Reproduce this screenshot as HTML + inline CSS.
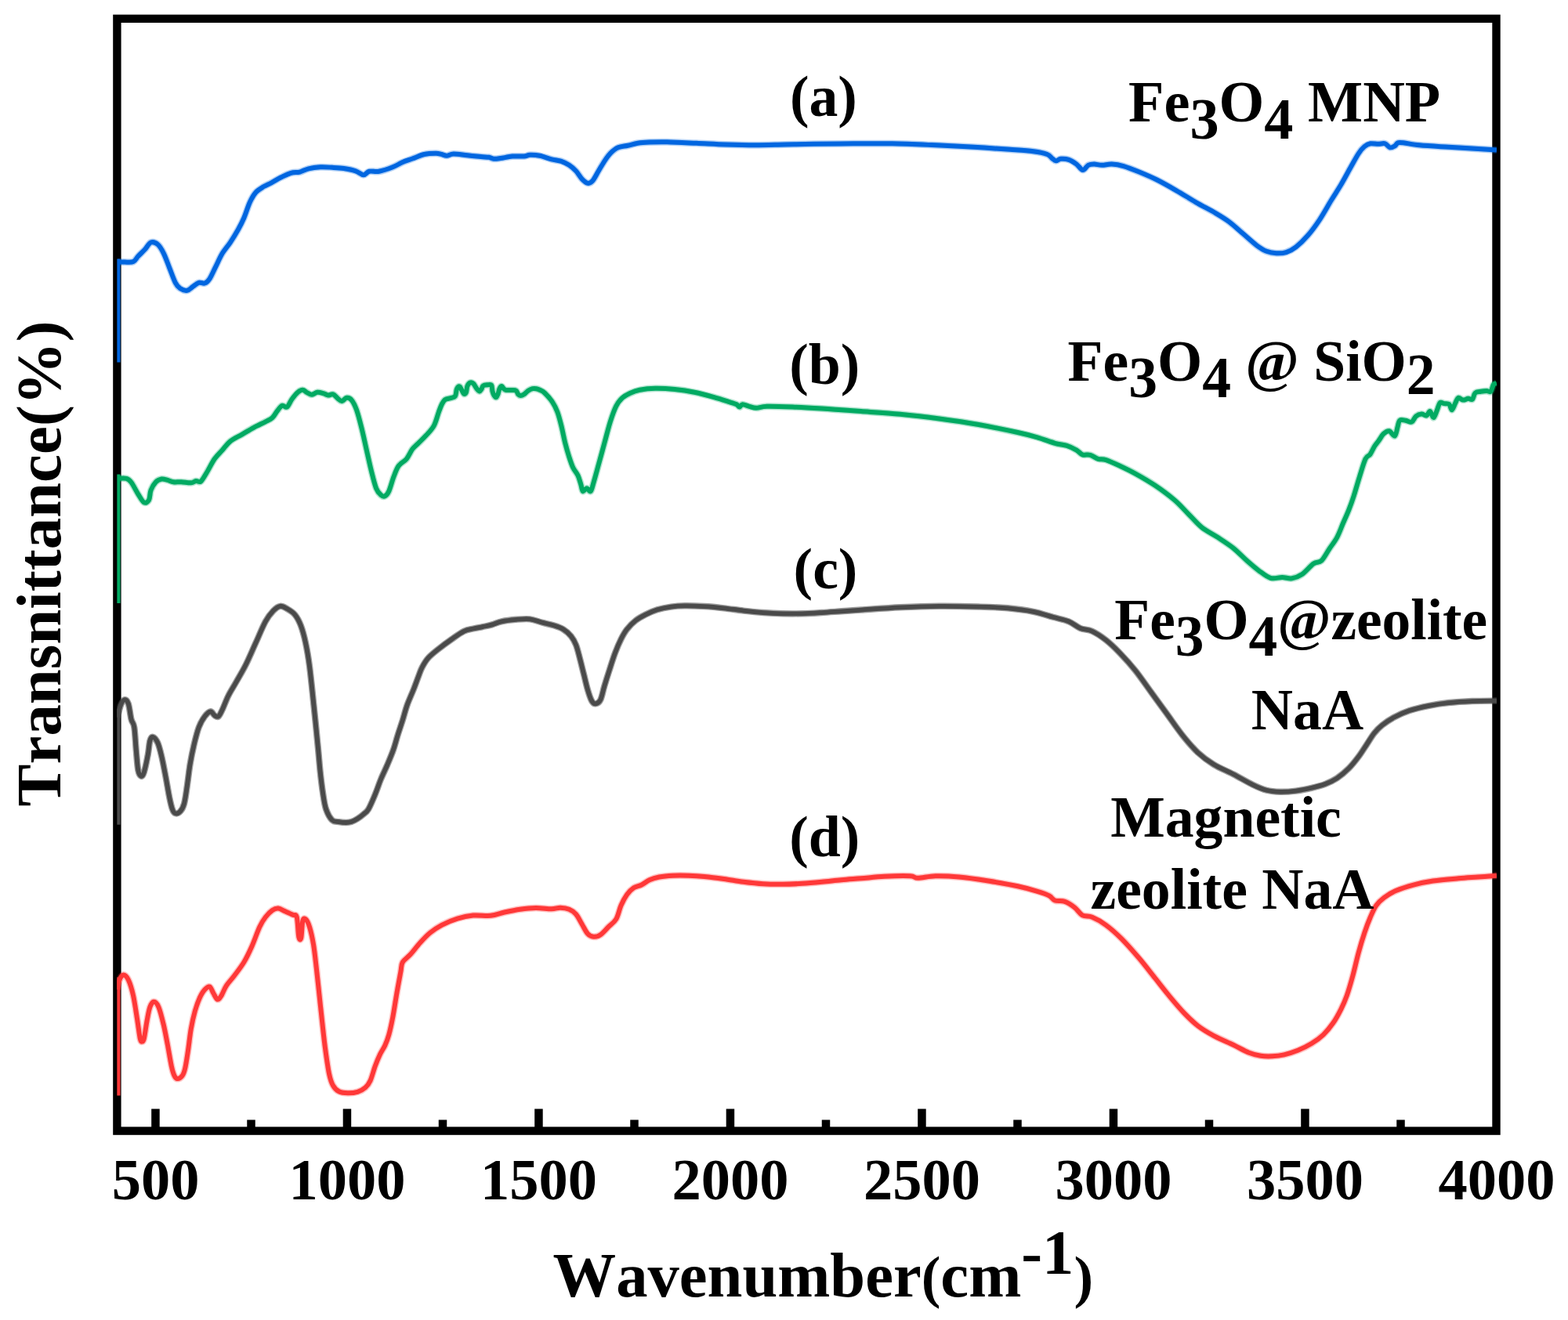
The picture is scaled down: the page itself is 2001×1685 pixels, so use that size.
<!DOCTYPE html>
<html lang="en"><head><meta charset="utf-8"><title>FTIR spectra</title>
<style>
html,body{margin:0;padding:0;background:#fff;}
body{width:2001px;height:1685px;overflow:hidden;}
svg{display:block;}
text{font-family:"Liberation Serif",serif;font-weight:bold;fill:#000;font-kerning:none;font-variant-ligatures:none;}
.t80{font-size:80.6px;}.ty{font-size:80.9px;}.t75{font-size:74.5px;}.t74{font-size:73.7px;}.par{font-size:74px;}.sub{font-size:74.5px;}
.crv{fill:none;stroke-linejoin:round;stroke-linecap:butt;}
</style></head><body>
<svg width="2001" height="1685" viewBox="0 0 2001 1685">
<rect x="0" y="0" width="2001" height="1685" fill="#ffffff"/>
<g id="axes">
<rect x="149.4" y="23.85" width="1760.1" height="1419.75" fill="none" stroke="#000" stroke-width="10.4"/>
<rect x="193.20" y="1415.5" width="10.5" height="25" fill="#000"/>
<rect x="437.70" y="1415.5" width="10.5" height="25" fill="#000"/>
<rect x="682.20" y="1415.5" width="10.5" height="25" fill="#000"/>
<rect x="926.70" y="1415.5" width="10.5" height="25" fill="#000"/>
<rect x="1171.20" y="1415.5" width="10.5" height="25" fill="#000"/>
<rect x="1415.70" y="1415.5" width="10.5" height="25" fill="#000"/>
<rect x="1660.20" y="1415.5" width="10.5" height="25" fill="#000"/>
<rect x="315.25" y="1429.5" width="10.5" height="11" fill="#000"/>
<rect x="559.75" y="1429.5" width="10.5" height="11" fill="#000"/>
<rect x="804.25" y="1429.5" width="10.5" height="11" fill="#000"/>
<rect x="1048.75" y="1429.5" width="10.5" height="11" fill="#000"/>
<rect x="1293.25" y="1429.5" width="10.5" height="11" fill="#000"/>
<rect x="1537.75" y="1429.5" width="10.5" height="11" fill="#000"/>
<rect x="1782.25" y="1429.5" width="10.5" height="11" fill="#000"/>
</g>
<clipPath id="plotclip"><rect x="149.2" y="0" width="1761" height="1685"/></clipPath>
<g id="curves" clip-path="url(#plotclip)">
<rect x="149.2" y="330.5" width="4.3" height="132.0" fill="#0066e0"/>
<path class="crv" stroke="#0066e0" stroke-opacity="0.3" stroke-width="9.0" d="M150.00,334.55 C151.47,334.55 155.46,334.63 158.80,334.55 C162.14,334.47 167.13,335.30 170.05,334.05 C172.97,332.80 173.80,329.68 176.30,327.05 C178.80,324.43 182.34,321.22 185.05,318.30 C187.76,315.38 189.84,310.59 192.55,309.55 C195.26,308.51 198.59,309.76 201.30,312.05 C204.01,314.34 206.30,318.30 208.80,323.30 C211.30,328.30 213.80,335.80 216.30,342.05 C218.80,348.30 221.51,356.43 223.80,360.80 C226.09,365.18 227.55,366.63 230.05,368.30 C232.55,369.97 236.09,371.22 238.80,370.80 C241.51,370.38 243.80,367.47 246.30,365.80 C248.80,364.13 251.30,361.51 253.80,360.80 C256.30,360.09 259.01,362.38 261.30,361.55 C263.59,360.72 265.26,359.26 267.55,355.80 C269.84,352.34 272.34,346.22 275.05,340.80 C277.76,335.38 280.68,328.51 283.80,323.30 C286.93,318.09 290.47,314.55 293.80,309.55 C297.13,304.55 300.88,298.51 303.80,293.30 C306.72,288.09 308.80,284.13 311.30,278.30 C313.80,272.47 316.30,263.72 318.80,258.30 C321.30,252.88 323.38,249.13 326.30,245.80 C329.22,242.47 332.97,240.38 336.30,238.30 C339.63,236.22 342.55,235.30 346.30,233.30 C350.05,231.30 354.63,228.38 358.80,226.30 C362.97,224.22 367.34,221.93 371.30,220.80 C375.26,219.68 378.80,220.47 382.55,219.55 C386.30,218.63 389.43,216.34 393.80,215.30 C398.18,214.26 403.80,213.55 408.80,213.30 C413.80,213.05 418.80,213.51 423.80,213.80 C428.80,214.09 433.80,214.30 438.80,215.05 C443.80,215.80 449.63,216.93 453.80,218.30 C457.97,219.68 460.88,223.22 463.80,223.30 C466.72,223.38 467.97,219.55 471.30,218.80 C474.63,218.05 478.80,219.72 483.80,218.80 C488.80,217.88 496.30,215.26 501.30,213.30 C506.30,211.34 509.63,208.84 513.80,207.05 C517.97,205.26 521.72,204.22 526.30,202.55 C530.88,200.88 536.30,198.18 541.30,197.05 C546.30,195.93 552.55,195.80 556.30,195.80 C560.05,195.80 561.51,196.55 563.80,197.05 C566.09,197.55 567.55,198.88 570.05,198.80 C572.55,198.72 574.42,196.63 578.80,196.55 C583.17,196.47 590.47,197.72 596.30,198.30 C602.13,198.88 609.22,199.63 613.80,200.05 C618.38,200.47 621.09,200.34 623.80,200.80 C626.51,201.26 627.55,202.59 630.05,202.80 C632.55,203.01 634.84,202.59 638.80,202.05 C642.76,201.51 648.80,199.97 653.80,199.55 C658.80,199.13 665.05,199.84 668.80,199.55 C672.55,199.26 672.97,197.93 676.30,197.80 C679.63,197.68 684.22,197.88 688.80,198.80 C693.38,199.72 699.22,202.13 703.80,203.30 C708.38,204.47 712.55,204.55 716.30,205.80 C720.05,207.05 723.17,208.72 726.30,210.80 C729.42,212.88 732.34,215.38 735.05,218.30 C737.76,221.22 740.05,225.72 742.55,228.30 C745.05,230.88 747.76,233.38 750.05,233.80 C752.34,234.22 754.01,233.38 756.30,230.80 C758.59,228.22 761.30,222.47 763.80,218.30 C766.30,214.13 768.80,209.55 771.30,205.80 C773.80,202.05 775.88,198.72 778.80,195.80 C781.72,192.88 785.05,189.97 788.80,188.30 C792.55,186.63 797.13,186.72 801.30,185.80 C805.47,184.88 809.22,183.51 813.80,182.80 C818.38,182.09 822.55,181.80 828.80,181.55 C835.05,181.30 841.30,181.09 851.30,181.30 C861.30,181.51 876.30,182.26 888.80,182.80 C901.30,183.34 913.80,184.13 926.30,184.55 C938.80,184.97 951.30,185.30 963.80,185.30 C976.30,185.30 988.80,184.80 1001.30,184.55 C1013.80,184.30 1024.22,184.01 1038.80,183.80 C1053.38,183.59 1072.13,183.38 1088.80,183.30 C1105.47,183.22 1122.13,183.01 1138.80,183.30 C1155.47,183.59 1172.13,184.34 1188.80,185.05 C1205.47,185.76 1222.13,186.59 1238.80,187.55 C1255.47,188.51 1275.47,189.84 1288.80,190.80 C1302.13,191.76 1310.88,192.26 1318.80,193.30 C1326.72,194.34 1332.34,195.59 1336.30,197.05 C1340.26,198.51 1340.67,200.68 1342.55,202.05 C1344.42,203.43 1345.67,205.18 1347.55,205.30 C1349.42,205.43 1351.09,203.05 1353.80,202.80 C1356.51,202.55 1360.47,202.68 1363.80,203.80 C1367.13,204.93 1370.80,207.34 1373.80,209.55 C1376.80,211.76 1379.30,216.84 1381.80,217.05 C1384.30,217.26 1386.38,212.05 1388.80,210.80 C1391.22,209.55 1393.38,209.55 1396.30,209.55 C1399.22,209.55 1402.55,210.80 1406.30,210.80 C1410.05,210.80 1414.22,209.34 1418.80,209.55 C1423.38,209.76 1427.97,210.38 1433.80,212.05 C1439.63,213.72 1446.72,216.63 1453.80,219.55 C1460.88,222.47 1468.38,225.59 1476.30,229.55 C1484.22,233.51 1492.97,238.51 1501.30,243.30 C1509.63,248.09 1517.97,253.51 1526.30,258.30 C1534.63,263.09 1544.22,267.88 1551.30,272.05 C1558.38,276.22 1562.97,278.93 1568.80,283.30 C1574.63,287.68 1580.47,293.30 1586.30,298.30 C1592.13,303.30 1598.80,309.55 1603.80,313.30 C1608.80,317.05 1612.13,319.13 1616.30,320.80 C1620.47,322.47 1624.63,323.09 1628.80,323.30 C1632.97,323.51 1637.13,323.38 1641.30,322.05 C1645.47,320.72 1649.22,318.84 1653.80,315.30 C1658.38,311.76 1663.80,306.55 1668.80,300.80 C1673.80,295.05 1678.80,288.30 1683.80,280.80 C1688.80,273.30 1694.22,263.30 1698.80,255.80 C1703.38,248.30 1707.13,242.88 1711.30,235.80 C1715.47,228.72 1720.05,219.97 1723.80,213.30 C1727.55,206.63 1730.88,200.18 1733.80,195.80 C1736.72,191.43 1738.80,189.13 1741.30,187.05 C1743.80,184.97 1745.88,183.84 1748.80,183.30 C1751.72,182.76 1755.67,183.80 1758.80,183.80 C1761.92,183.80 1765.05,182.55 1767.55,183.30 C1770.05,184.05 1771.72,187.80 1773.80,188.30 C1775.88,188.80 1777.97,187.34 1780.05,186.30 C1782.13,185.26 1781.09,182.22 1786.30,182.05 C1791.51,181.88 1800.88,184.34 1811.30,185.30 C1821.72,186.26 1836.30,187.01 1848.80,187.80 C1861.30,188.59 1876.10,189.43 1886.30,190.05 C1896.50,190.68 1906.05,191.30 1910.00,191.55"/>
<path class="crv" stroke="#0066e0" stroke-width="6.0" d="M150.00,334.55 C151.47,334.55 155.46,334.63 158.80,334.55 C162.14,334.47 167.13,335.30 170.05,334.05 C172.97,332.80 173.80,329.68 176.30,327.05 C178.80,324.43 182.34,321.22 185.05,318.30 C187.76,315.38 189.84,310.59 192.55,309.55 C195.26,308.51 198.59,309.76 201.30,312.05 C204.01,314.34 206.30,318.30 208.80,323.30 C211.30,328.30 213.80,335.80 216.30,342.05 C218.80,348.30 221.51,356.43 223.80,360.80 C226.09,365.18 227.55,366.63 230.05,368.30 C232.55,369.97 236.09,371.22 238.80,370.80 C241.51,370.38 243.80,367.47 246.30,365.80 C248.80,364.13 251.30,361.51 253.80,360.80 C256.30,360.09 259.01,362.38 261.30,361.55 C263.59,360.72 265.26,359.26 267.55,355.80 C269.84,352.34 272.34,346.22 275.05,340.80 C277.76,335.38 280.68,328.51 283.80,323.30 C286.93,318.09 290.47,314.55 293.80,309.55 C297.13,304.55 300.88,298.51 303.80,293.30 C306.72,288.09 308.80,284.13 311.30,278.30 C313.80,272.47 316.30,263.72 318.80,258.30 C321.30,252.88 323.38,249.13 326.30,245.80 C329.22,242.47 332.97,240.38 336.30,238.30 C339.63,236.22 342.55,235.30 346.30,233.30 C350.05,231.30 354.63,228.38 358.80,226.30 C362.97,224.22 367.34,221.93 371.30,220.80 C375.26,219.68 378.80,220.47 382.55,219.55 C386.30,218.63 389.43,216.34 393.80,215.30 C398.18,214.26 403.80,213.55 408.80,213.30 C413.80,213.05 418.80,213.51 423.80,213.80 C428.80,214.09 433.80,214.30 438.80,215.05 C443.80,215.80 449.63,216.93 453.80,218.30 C457.97,219.68 460.88,223.22 463.80,223.30 C466.72,223.38 467.97,219.55 471.30,218.80 C474.63,218.05 478.80,219.72 483.80,218.80 C488.80,217.88 496.30,215.26 501.30,213.30 C506.30,211.34 509.63,208.84 513.80,207.05 C517.97,205.26 521.72,204.22 526.30,202.55 C530.88,200.88 536.30,198.18 541.30,197.05 C546.30,195.93 552.55,195.80 556.30,195.80 C560.05,195.80 561.51,196.55 563.80,197.05 C566.09,197.55 567.55,198.88 570.05,198.80 C572.55,198.72 574.42,196.63 578.80,196.55 C583.17,196.47 590.47,197.72 596.30,198.30 C602.13,198.88 609.22,199.63 613.80,200.05 C618.38,200.47 621.09,200.34 623.80,200.80 C626.51,201.26 627.55,202.59 630.05,202.80 C632.55,203.01 634.84,202.59 638.80,202.05 C642.76,201.51 648.80,199.97 653.80,199.55 C658.80,199.13 665.05,199.84 668.80,199.55 C672.55,199.26 672.97,197.93 676.30,197.80 C679.63,197.68 684.22,197.88 688.80,198.80 C693.38,199.72 699.22,202.13 703.80,203.30 C708.38,204.47 712.55,204.55 716.30,205.80 C720.05,207.05 723.17,208.72 726.30,210.80 C729.42,212.88 732.34,215.38 735.05,218.30 C737.76,221.22 740.05,225.72 742.55,228.30 C745.05,230.88 747.76,233.38 750.05,233.80 C752.34,234.22 754.01,233.38 756.30,230.80 C758.59,228.22 761.30,222.47 763.80,218.30 C766.30,214.13 768.80,209.55 771.30,205.80 C773.80,202.05 775.88,198.72 778.80,195.80 C781.72,192.88 785.05,189.97 788.80,188.30 C792.55,186.63 797.13,186.72 801.30,185.80 C805.47,184.88 809.22,183.51 813.80,182.80 C818.38,182.09 822.55,181.80 828.80,181.55 C835.05,181.30 841.30,181.09 851.30,181.30 C861.30,181.51 876.30,182.26 888.80,182.80 C901.30,183.34 913.80,184.13 926.30,184.55 C938.80,184.97 951.30,185.30 963.80,185.30 C976.30,185.30 988.80,184.80 1001.30,184.55 C1013.80,184.30 1024.22,184.01 1038.80,183.80 C1053.38,183.59 1072.13,183.38 1088.80,183.30 C1105.47,183.22 1122.13,183.01 1138.80,183.30 C1155.47,183.59 1172.13,184.34 1188.80,185.05 C1205.47,185.76 1222.13,186.59 1238.80,187.55 C1255.47,188.51 1275.47,189.84 1288.80,190.80 C1302.13,191.76 1310.88,192.26 1318.80,193.30 C1326.72,194.34 1332.34,195.59 1336.30,197.05 C1340.26,198.51 1340.67,200.68 1342.55,202.05 C1344.42,203.43 1345.67,205.18 1347.55,205.30 C1349.42,205.43 1351.09,203.05 1353.80,202.80 C1356.51,202.55 1360.47,202.68 1363.80,203.80 C1367.13,204.93 1370.80,207.34 1373.80,209.55 C1376.80,211.76 1379.30,216.84 1381.80,217.05 C1384.30,217.26 1386.38,212.05 1388.80,210.80 C1391.22,209.55 1393.38,209.55 1396.30,209.55 C1399.22,209.55 1402.55,210.80 1406.30,210.80 C1410.05,210.80 1414.22,209.34 1418.80,209.55 C1423.38,209.76 1427.97,210.38 1433.80,212.05 C1439.63,213.72 1446.72,216.63 1453.80,219.55 C1460.88,222.47 1468.38,225.59 1476.30,229.55 C1484.22,233.51 1492.97,238.51 1501.30,243.30 C1509.63,248.09 1517.97,253.51 1526.30,258.30 C1534.63,263.09 1544.22,267.88 1551.30,272.05 C1558.38,276.22 1562.97,278.93 1568.80,283.30 C1574.63,287.68 1580.47,293.30 1586.30,298.30 C1592.13,303.30 1598.80,309.55 1603.80,313.30 C1608.80,317.05 1612.13,319.13 1616.30,320.80 C1620.47,322.47 1624.63,323.09 1628.80,323.30 C1632.97,323.51 1637.13,323.38 1641.30,322.05 C1645.47,320.72 1649.22,318.84 1653.80,315.30 C1658.38,311.76 1663.80,306.55 1668.80,300.80 C1673.80,295.05 1678.80,288.30 1683.80,280.80 C1688.80,273.30 1694.22,263.30 1698.80,255.80 C1703.38,248.30 1707.13,242.88 1711.30,235.80 C1715.47,228.72 1720.05,219.97 1723.80,213.30 C1727.55,206.63 1730.88,200.18 1733.80,195.80 C1736.72,191.43 1738.80,189.13 1741.30,187.05 C1743.80,184.97 1745.88,183.84 1748.80,183.30 C1751.72,182.76 1755.67,183.80 1758.80,183.80 C1761.92,183.80 1765.05,182.55 1767.55,183.30 C1770.05,184.05 1771.72,187.80 1773.80,188.30 C1775.88,188.80 1777.97,187.34 1780.05,186.30 C1782.13,185.26 1781.09,182.22 1786.30,182.05 C1791.51,181.88 1800.88,184.34 1811.30,185.30 C1821.72,186.26 1836.30,187.01 1848.80,187.80 C1861.30,188.59 1876.10,189.43 1886.30,190.05 C1896.50,190.68 1906.05,191.30 1910.00,191.55"/>
<rect x="149.2" y="605.5" width="4.3" height="164.5" fill="#00aa62"/>
<path class="crv" stroke="#00aa62" stroke-opacity="0.3" stroke-width="9.0" d="M150.00,610.80 C151.88,610.80 158.38,609.97 161.30,610.80 C164.23,611.63 165.05,612.47 167.55,615.80 C170.05,619.13 173.59,626.55 176.30,630.80 C179.01,635.05 181.51,640.05 183.80,641.30 C186.09,642.55 188.59,640.88 190.05,638.30 C191.51,635.72 191.09,629.63 192.55,625.80 C194.01,621.97 196.51,617.67 198.80,615.30 C201.09,612.92 203.80,611.97 206.30,611.55 C208.80,611.13 211.30,612.17 213.80,612.80 C216.30,613.42 218.38,614.88 221.30,615.30 C224.22,615.72 227.55,615.13 231.30,615.30 C235.05,615.47 240.68,616.51 243.80,616.30 C246.93,616.09 247.97,614.34 250.05,614.05 C252.13,613.76 254.01,616.34 256.30,614.55 C258.59,612.76 260.88,608.09 263.80,603.30 C266.72,598.51 270.47,590.59 273.80,585.80 C277.13,581.01 280.47,578.30 283.80,574.55 C287.13,570.80 289.63,566.63 293.80,563.30 C297.97,559.97 303.80,557.47 308.80,554.55 C313.80,551.63 318.80,548.51 323.80,545.80 C328.80,543.09 334.84,540.38 338.80,538.30 C342.76,536.22 345.05,535.59 347.55,533.30 C350.05,531.01 351.72,527.13 353.80,524.55 C355.88,521.97 357.97,518.63 360.05,517.80 C362.13,516.97 364.22,520.92 366.30,519.55 C368.38,518.17 370.26,512.67 372.55,509.55 C374.84,506.43 377.76,502.76 380.05,500.80 C382.34,498.84 384.43,497.80 386.30,497.80 C388.18,497.80 389.43,499.80 391.30,500.80 C393.18,501.80 395.26,503.80 397.55,503.80 C399.84,503.80 402.55,501.09 405.05,500.80 C407.55,500.51 410.26,501.43 412.55,502.05 C414.84,502.68 416.72,504.34 418.80,504.55 C420.88,504.76 422.97,502.59 425.05,503.30 C427.13,504.01 429.43,507.34 431.30,508.80 C433.18,510.26 434.43,512.22 436.30,512.05 C438.18,511.88 440.47,508.01 442.55,507.80 C444.63,507.59 446.72,508.22 448.80,510.80 C450.88,513.38 452.97,517.47 455.05,523.30 C457.13,529.13 459.22,537.47 461.30,545.80 C463.38,554.13 465.47,564.13 467.55,573.30 C469.63,582.47 471.72,592.47 473.80,600.80 C475.88,609.13 477.97,618.09 480.05,623.30 C482.13,628.51 484.43,630.38 486.30,632.05 C488.18,633.72 489.63,634.13 491.30,633.30 C492.97,632.47 494.43,631.22 496.30,627.05 C498.18,622.88 500.47,613.72 502.55,608.30 C504.63,602.88 506.09,598.30 508.80,594.55 C511.51,590.80 515.88,589.34 518.80,585.80 C521.72,582.26 523.80,576.63 526.30,573.30 C528.80,569.97 530.88,568.72 533.80,565.80 C536.72,562.88 540.47,559.55 543.80,555.80 C547.13,552.05 551.12,548.27 553.80,543.30 C556.48,538.33 558.18,530.63 559.90,526.00 C561.62,521.37 562.70,518.18 564.10,515.50 C565.50,512.82 566.43,511.13 568.30,509.90 C570.17,508.67 573.20,508.80 575.30,508.10 C577.40,507.40 579.62,507.62 580.90,505.70 C582.18,503.78 582.07,498.65 583.00,496.60 C583.93,494.55 585.45,493.17 586.50,493.40 C587.55,493.63 588.37,496.42 589.30,498.00 C590.23,499.58 591.17,502.43 592.10,502.90 C593.03,503.37 594.20,502.43 594.90,500.80 C595.60,499.17 595.48,495.15 596.30,493.10 C597.12,491.05 598.52,489.08 599.80,488.50 C601.08,487.92 602.60,488.37 604.00,489.60 C605.40,490.83 606.92,494.27 608.20,495.90 C609.48,497.53 610.65,499.28 611.70,499.40 C612.75,499.52 613.68,497.77 614.50,496.60 C615.32,495.43 615.32,493.28 616.60,492.40 C617.88,491.52 620.45,491.42 622.20,491.30 C623.95,491.18 626.05,490.35 627.10,491.70 C628.15,493.05 627.92,497.18 628.50,499.40 C629.08,501.62 629.78,503.72 630.60,505.00 C631.42,506.28 632.58,507.45 633.40,507.10 C634.22,506.75 634.80,504.77 635.50,502.90 C636.20,501.03 636.78,497.53 637.60,495.90 C638.42,494.27 639.47,492.98 640.40,493.10 C641.33,493.22 642.27,495.78 643.20,496.60 C644.13,497.42 644.37,497.77 646.00,498.00 C647.63,498.23 650.90,497.88 653.00,498.00 C655.10,498.12 657.20,497.77 658.60,498.70 C660.00,499.63 660.47,502.55 661.40,503.60 C662.33,504.65 663.03,505.00 664.20,505.00 C665.37,505.00 666.77,504.65 668.40,503.60 C670.03,502.55 672.13,499.93 674.00,498.70 C675.87,497.47 677.85,496.62 679.60,496.20 C681.35,495.78 682.87,495.90 684.50,496.20 C686.13,496.50 687.65,497.12 689.40,498.00 C691.15,498.88 692.39,498.95 695.00,501.50 C697.61,504.05 702.33,509.25 705.05,513.30 C707.77,517.35 709.42,520.80 711.30,525.80 C713.17,530.80 714.63,536.63 716.30,543.30 C717.97,549.97 719.63,559.13 721.30,565.80 C722.97,572.47 724.63,578.09 726.30,583.30 C727.97,588.51 729.42,593.09 731.30,597.05 C733.17,601.01 735.88,603.51 737.55,607.05 C739.22,610.59 740.26,614.97 741.30,618.30 C742.34,621.63 742.55,626.22 743.80,627.05 C745.05,627.88 747.13,623.30 748.80,623.30 C750.47,623.30 752.34,628.30 753.80,627.05 C755.26,625.80 755.88,621.42 757.55,615.80 C759.22,610.17 761.51,601.63 763.80,593.30 C766.09,584.97 768.80,574.97 771.30,565.80 C773.80,556.63 776.30,546.22 778.80,538.30 C781.30,530.38 783.80,523.30 786.30,518.30 C788.80,513.30 790.88,511.01 793.80,508.30 C796.72,505.59 800.05,503.80 803.80,502.05 C807.55,500.30 810.88,498.84 816.30,497.80 C821.72,496.76 828.80,495.93 836.30,495.80 C843.80,495.68 852.97,496.22 861.30,497.05 C869.63,497.88 877.97,499.13 886.30,500.80 C894.63,502.47 903.80,504.97 911.30,507.05 C918.80,509.13 926.51,511.76 931.30,513.30 C936.09,514.84 937.97,515.26 940.05,516.30 C942.13,517.34 942.55,519.55 943.80,519.55 C945.05,519.55 945.47,516.42 947.55,516.30 C949.63,516.17 953.38,518.05 956.30,518.80 C959.22,519.55 961.30,520.80 965.05,520.80 C968.80,520.80 971.09,519.01 978.80,518.80 C986.51,518.59 999.63,519.09 1011.30,519.55 C1022.97,520.01 1038.38,520.92 1048.80,521.55 C1059.22,522.17 1065.47,522.72 1073.80,523.30 C1082.13,523.88 1086.30,524.13 1098.80,525.05 C1111.30,525.97 1132.13,527.22 1148.80,528.80 C1165.47,530.38 1182.13,532.34 1198.80,534.55 C1215.47,536.76 1232.13,539.13 1248.80,542.05 C1265.47,544.97 1286.30,549.34 1298.80,552.05 C1311.30,554.76 1315.88,556.01 1323.80,558.30 C1331.72,560.59 1340.05,564.05 1346.30,565.80 C1352.55,567.55 1356.72,567.34 1361.30,568.80 C1365.88,570.26 1370.47,572.63 1373.80,574.55 C1377.13,576.47 1378.38,579.26 1381.30,580.30 C1384.22,581.34 1387.97,579.88 1391.30,580.80 C1394.63,581.72 1397.97,584.76 1401.30,585.80 C1404.63,586.84 1406.72,585.59 1411.30,587.05 C1415.88,588.51 1422.55,591.63 1428.80,594.55 C1435.05,597.47 1441.30,600.38 1448.80,604.55 C1456.30,608.72 1465.47,613.92 1473.80,619.55 C1482.13,625.17 1491.72,632.26 1498.80,638.30 C1505.88,644.34 1510.47,649.97 1516.30,655.80 C1522.13,661.63 1527.55,668.30 1533.80,673.30 C1540.05,678.30 1547.13,681.42 1553.80,685.80 C1560.47,690.17 1567.55,694.55 1573.80,699.55 C1580.05,704.55 1585.88,711.01 1591.30,715.80 C1596.72,720.59 1601.30,724.63 1606.30,728.30 C1611.30,731.97 1616.30,736.34 1621.30,737.80 C1626.30,739.26 1631.72,736.97 1636.30,737.05 C1640.88,737.13 1644.63,738.92 1648.80,738.30 C1652.97,737.67 1656.72,736.42 1661.30,733.30 C1665.88,730.17 1672.13,722.47 1676.30,719.55 C1680.47,716.63 1682.97,718.92 1686.30,715.80 C1689.63,712.67 1692.97,705.80 1696.30,700.80 C1699.63,695.80 1703.38,691.22 1706.30,685.80 C1709.22,680.38 1711.30,674.13 1713.80,668.30 C1716.30,662.47 1719.01,656.63 1721.30,650.80 C1723.59,644.97 1725.26,640.38 1727.55,633.30 C1729.84,626.22 1732.55,616.22 1735.05,608.30 C1737.55,600.38 1740.31,590.52 1742.55,585.80 C1744.79,581.08 1746.61,582.63 1748.50,580.00 C1750.39,577.37 1752.10,572.87 1753.90,570.00 C1755.70,567.13 1757.35,565.50 1759.30,562.80 C1761.25,560.10 1763.35,555.90 1765.60,553.80 C1767.85,551.70 1770.40,549.75 1772.80,550.20 C1775.20,550.65 1778.20,557.40 1780.00,556.50 C1781.80,555.60 1782.55,548.10 1783.60,544.80 C1784.65,541.50 1784.65,538.05 1786.30,536.70 C1787.95,535.35 1790.95,536.40 1793.50,536.70 C1796.05,537.00 1799.35,539.40 1801.60,538.50 C1803.85,537.60 1804.90,532.95 1807.00,531.30 C1809.10,529.65 1811.95,528.75 1814.20,528.60 C1816.45,528.45 1818.70,531.00 1820.50,530.40 C1822.30,529.80 1823.50,524.55 1825.00,525.00 C1826.50,525.45 1828.00,533.40 1829.50,533.10 C1831.00,532.80 1832.65,526.35 1834.00,523.20 C1835.35,520.05 1836.10,515.55 1837.60,514.20 C1839.10,512.85 1841.05,514.80 1843.00,515.10 C1844.95,515.40 1847.65,514.65 1849.30,516.00 C1850.95,517.35 1851.55,523.50 1852.90,523.20 C1854.25,522.90 1856.05,516.75 1857.40,514.20 C1858.75,511.65 1859.35,508.50 1861.00,507.90 C1862.65,507.30 1865.20,510.45 1867.30,510.60 C1869.40,510.75 1871.65,508.95 1873.60,508.80 C1875.55,508.65 1877.50,510.90 1879.00,509.70 C1880.50,508.50 1880.80,503.25 1882.60,501.60 C1884.40,499.95 1887.40,500.25 1889.80,499.80 C1892.20,499.35 1894.90,498.90 1897.00,498.90 C1899.10,498.90 1900.90,501.15 1902.40,499.80 C1903.90,498.45 1904.73,492.60 1906.00,490.80 C1907.27,489.00 1909.33,489.30 1910.00,489.00"/>
<path class="crv" stroke="#00aa62" stroke-width="6.0" d="M150.00,610.80 C151.88,610.80 158.38,609.97 161.30,610.80 C164.23,611.63 165.05,612.47 167.55,615.80 C170.05,619.13 173.59,626.55 176.30,630.80 C179.01,635.05 181.51,640.05 183.80,641.30 C186.09,642.55 188.59,640.88 190.05,638.30 C191.51,635.72 191.09,629.63 192.55,625.80 C194.01,621.97 196.51,617.67 198.80,615.30 C201.09,612.92 203.80,611.97 206.30,611.55 C208.80,611.13 211.30,612.17 213.80,612.80 C216.30,613.42 218.38,614.88 221.30,615.30 C224.22,615.72 227.55,615.13 231.30,615.30 C235.05,615.47 240.68,616.51 243.80,616.30 C246.93,616.09 247.97,614.34 250.05,614.05 C252.13,613.76 254.01,616.34 256.30,614.55 C258.59,612.76 260.88,608.09 263.80,603.30 C266.72,598.51 270.47,590.59 273.80,585.80 C277.13,581.01 280.47,578.30 283.80,574.55 C287.13,570.80 289.63,566.63 293.80,563.30 C297.97,559.97 303.80,557.47 308.80,554.55 C313.80,551.63 318.80,548.51 323.80,545.80 C328.80,543.09 334.84,540.38 338.80,538.30 C342.76,536.22 345.05,535.59 347.55,533.30 C350.05,531.01 351.72,527.13 353.80,524.55 C355.88,521.97 357.97,518.63 360.05,517.80 C362.13,516.97 364.22,520.92 366.30,519.55 C368.38,518.17 370.26,512.67 372.55,509.55 C374.84,506.43 377.76,502.76 380.05,500.80 C382.34,498.84 384.43,497.80 386.30,497.80 C388.18,497.80 389.43,499.80 391.30,500.80 C393.18,501.80 395.26,503.80 397.55,503.80 C399.84,503.80 402.55,501.09 405.05,500.80 C407.55,500.51 410.26,501.43 412.55,502.05 C414.84,502.68 416.72,504.34 418.80,504.55 C420.88,504.76 422.97,502.59 425.05,503.30 C427.13,504.01 429.43,507.34 431.30,508.80 C433.18,510.26 434.43,512.22 436.30,512.05 C438.18,511.88 440.47,508.01 442.55,507.80 C444.63,507.59 446.72,508.22 448.80,510.80 C450.88,513.38 452.97,517.47 455.05,523.30 C457.13,529.13 459.22,537.47 461.30,545.80 C463.38,554.13 465.47,564.13 467.55,573.30 C469.63,582.47 471.72,592.47 473.80,600.80 C475.88,609.13 477.97,618.09 480.05,623.30 C482.13,628.51 484.43,630.38 486.30,632.05 C488.18,633.72 489.63,634.13 491.30,633.30 C492.97,632.47 494.43,631.22 496.30,627.05 C498.18,622.88 500.47,613.72 502.55,608.30 C504.63,602.88 506.09,598.30 508.80,594.55 C511.51,590.80 515.88,589.34 518.80,585.80 C521.72,582.26 523.80,576.63 526.30,573.30 C528.80,569.97 530.88,568.72 533.80,565.80 C536.72,562.88 540.47,559.55 543.80,555.80 C547.13,552.05 551.12,548.27 553.80,543.30 C556.48,538.33 558.18,530.63 559.90,526.00 C561.62,521.37 562.70,518.18 564.10,515.50 C565.50,512.82 566.43,511.13 568.30,509.90 C570.17,508.67 573.20,508.80 575.30,508.10 C577.40,507.40 579.62,507.62 580.90,505.70 C582.18,503.78 582.07,498.65 583.00,496.60 C583.93,494.55 585.45,493.17 586.50,493.40 C587.55,493.63 588.37,496.42 589.30,498.00 C590.23,499.58 591.17,502.43 592.10,502.90 C593.03,503.37 594.20,502.43 594.90,500.80 C595.60,499.17 595.48,495.15 596.30,493.10 C597.12,491.05 598.52,489.08 599.80,488.50 C601.08,487.92 602.60,488.37 604.00,489.60 C605.40,490.83 606.92,494.27 608.20,495.90 C609.48,497.53 610.65,499.28 611.70,499.40 C612.75,499.52 613.68,497.77 614.50,496.60 C615.32,495.43 615.32,493.28 616.60,492.40 C617.88,491.52 620.45,491.42 622.20,491.30 C623.95,491.18 626.05,490.35 627.10,491.70 C628.15,493.05 627.92,497.18 628.50,499.40 C629.08,501.62 629.78,503.72 630.60,505.00 C631.42,506.28 632.58,507.45 633.40,507.10 C634.22,506.75 634.80,504.77 635.50,502.90 C636.20,501.03 636.78,497.53 637.60,495.90 C638.42,494.27 639.47,492.98 640.40,493.10 C641.33,493.22 642.27,495.78 643.20,496.60 C644.13,497.42 644.37,497.77 646.00,498.00 C647.63,498.23 650.90,497.88 653.00,498.00 C655.10,498.12 657.20,497.77 658.60,498.70 C660.00,499.63 660.47,502.55 661.40,503.60 C662.33,504.65 663.03,505.00 664.20,505.00 C665.37,505.00 666.77,504.65 668.40,503.60 C670.03,502.55 672.13,499.93 674.00,498.70 C675.87,497.47 677.85,496.62 679.60,496.20 C681.35,495.78 682.87,495.90 684.50,496.20 C686.13,496.50 687.65,497.12 689.40,498.00 C691.15,498.88 692.39,498.95 695.00,501.50 C697.61,504.05 702.33,509.25 705.05,513.30 C707.77,517.35 709.42,520.80 711.30,525.80 C713.17,530.80 714.63,536.63 716.30,543.30 C717.97,549.97 719.63,559.13 721.30,565.80 C722.97,572.47 724.63,578.09 726.30,583.30 C727.97,588.51 729.42,593.09 731.30,597.05 C733.17,601.01 735.88,603.51 737.55,607.05 C739.22,610.59 740.26,614.97 741.30,618.30 C742.34,621.63 742.55,626.22 743.80,627.05 C745.05,627.88 747.13,623.30 748.80,623.30 C750.47,623.30 752.34,628.30 753.80,627.05 C755.26,625.80 755.88,621.42 757.55,615.80 C759.22,610.17 761.51,601.63 763.80,593.30 C766.09,584.97 768.80,574.97 771.30,565.80 C773.80,556.63 776.30,546.22 778.80,538.30 C781.30,530.38 783.80,523.30 786.30,518.30 C788.80,513.30 790.88,511.01 793.80,508.30 C796.72,505.59 800.05,503.80 803.80,502.05 C807.55,500.30 810.88,498.84 816.30,497.80 C821.72,496.76 828.80,495.93 836.30,495.80 C843.80,495.68 852.97,496.22 861.30,497.05 C869.63,497.88 877.97,499.13 886.30,500.80 C894.63,502.47 903.80,504.97 911.30,507.05 C918.80,509.13 926.51,511.76 931.30,513.30 C936.09,514.84 937.97,515.26 940.05,516.30 C942.13,517.34 942.55,519.55 943.80,519.55 C945.05,519.55 945.47,516.42 947.55,516.30 C949.63,516.17 953.38,518.05 956.30,518.80 C959.22,519.55 961.30,520.80 965.05,520.80 C968.80,520.80 971.09,519.01 978.80,518.80 C986.51,518.59 999.63,519.09 1011.30,519.55 C1022.97,520.01 1038.38,520.92 1048.80,521.55 C1059.22,522.17 1065.47,522.72 1073.80,523.30 C1082.13,523.88 1086.30,524.13 1098.80,525.05 C1111.30,525.97 1132.13,527.22 1148.80,528.80 C1165.47,530.38 1182.13,532.34 1198.80,534.55 C1215.47,536.76 1232.13,539.13 1248.80,542.05 C1265.47,544.97 1286.30,549.34 1298.80,552.05 C1311.30,554.76 1315.88,556.01 1323.80,558.30 C1331.72,560.59 1340.05,564.05 1346.30,565.80 C1352.55,567.55 1356.72,567.34 1361.30,568.80 C1365.88,570.26 1370.47,572.63 1373.80,574.55 C1377.13,576.47 1378.38,579.26 1381.30,580.30 C1384.22,581.34 1387.97,579.88 1391.30,580.80 C1394.63,581.72 1397.97,584.76 1401.30,585.80 C1404.63,586.84 1406.72,585.59 1411.30,587.05 C1415.88,588.51 1422.55,591.63 1428.80,594.55 C1435.05,597.47 1441.30,600.38 1448.80,604.55 C1456.30,608.72 1465.47,613.92 1473.80,619.55 C1482.13,625.17 1491.72,632.26 1498.80,638.30 C1505.88,644.34 1510.47,649.97 1516.30,655.80 C1522.13,661.63 1527.55,668.30 1533.80,673.30 C1540.05,678.30 1547.13,681.42 1553.80,685.80 C1560.47,690.17 1567.55,694.55 1573.80,699.55 C1580.05,704.55 1585.88,711.01 1591.30,715.80 C1596.72,720.59 1601.30,724.63 1606.30,728.30 C1611.30,731.97 1616.30,736.34 1621.30,737.80 C1626.30,739.26 1631.72,736.97 1636.30,737.05 C1640.88,737.13 1644.63,738.92 1648.80,738.30 C1652.97,737.67 1656.72,736.42 1661.30,733.30 C1665.88,730.17 1672.13,722.47 1676.30,719.55 C1680.47,716.63 1682.97,718.92 1686.30,715.80 C1689.63,712.67 1692.97,705.80 1696.30,700.80 C1699.63,695.80 1703.38,691.22 1706.30,685.80 C1709.22,680.38 1711.30,674.13 1713.80,668.30 C1716.30,662.47 1719.01,656.63 1721.30,650.80 C1723.59,644.97 1725.26,640.38 1727.55,633.30 C1729.84,626.22 1732.55,616.22 1735.05,608.30 C1737.55,600.38 1740.31,590.52 1742.55,585.80 C1744.79,581.08 1746.61,582.63 1748.50,580.00 C1750.39,577.37 1752.10,572.87 1753.90,570.00 C1755.70,567.13 1757.35,565.50 1759.30,562.80 C1761.25,560.10 1763.35,555.90 1765.60,553.80 C1767.85,551.70 1770.40,549.75 1772.80,550.20 C1775.20,550.65 1778.20,557.40 1780.00,556.50 C1781.80,555.60 1782.55,548.10 1783.60,544.80 C1784.65,541.50 1784.65,538.05 1786.30,536.70 C1787.95,535.35 1790.95,536.40 1793.50,536.70 C1796.05,537.00 1799.35,539.40 1801.60,538.50 C1803.85,537.60 1804.90,532.95 1807.00,531.30 C1809.10,529.65 1811.95,528.75 1814.20,528.60 C1816.45,528.45 1818.70,531.00 1820.50,530.40 C1822.30,529.80 1823.50,524.55 1825.00,525.00 C1826.50,525.45 1828.00,533.40 1829.50,533.10 C1831.00,532.80 1832.65,526.35 1834.00,523.20 C1835.35,520.05 1836.10,515.55 1837.60,514.20 C1839.10,512.85 1841.05,514.80 1843.00,515.10 C1844.95,515.40 1847.65,514.65 1849.30,516.00 C1850.95,517.35 1851.55,523.50 1852.90,523.20 C1854.25,522.90 1856.05,516.75 1857.40,514.20 C1858.75,511.65 1859.35,508.50 1861.00,507.90 C1862.65,507.30 1865.20,510.45 1867.30,510.60 C1869.40,510.75 1871.65,508.95 1873.60,508.80 C1875.55,508.65 1877.50,510.90 1879.00,509.70 C1880.50,508.50 1880.80,503.25 1882.60,501.60 C1884.40,499.95 1887.40,500.25 1889.80,499.80 C1892.20,499.35 1894.90,498.90 1897.00,498.90 C1899.10,498.90 1900.90,501.15 1902.40,499.80 C1903.90,498.45 1904.73,492.60 1906.00,490.80 C1907.27,489.00 1909.33,489.30 1910.00,489.00"/>
<rect x="149.2" y="904.5" width="4.3" height="148.2" fill="#4a4a4a"/>
<path class="crv" stroke="#4a4a4a" stroke-opacity="0.55" stroke-width="8.4" d="M150.00,915.80 C150.63,913.30 152.33,904.55 153.80,900.80 C155.27,897.05 157.13,893.72 158.80,893.30 C160.47,892.88 162.34,894.13 163.80,898.30 C165.26,902.47 166.30,913.30 167.55,918.30 C168.80,923.30 170.26,921.63 171.30,928.30 C172.34,934.97 172.97,949.13 173.80,958.30 C174.63,967.47 175.26,977.88 176.30,983.30 C177.34,988.72 178.80,990.38 180.05,990.80 C181.30,991.22 182.34,990.38 183.80,985.80 C185.26,981.22 187.55,969.97 188.80,963.30 C190.05,956.63 190.26,949.55 191.30,945.80 C192.34,942.05 193.38,940.38 195.05,940.80 C196.72,941.22 199.43,944.13 201.30,948.30 C203.18,952.47 204.63,958.72 206.30,965.80 C207.97,972.88 209.63,982.05 211.30,990.80 C212.97,999.55 214.84,1011.22 216.30,1018.30 C217.76,1025.38 218.80,1029.97 220.05,1033.30 C221.30,1036.63 222.13,1037.88 223.80,1038.30 C225.47,1038.72 228.18,1037.88 230.05,1035.80 C231.93,1033.72 233.59,1031.22 235.05,1025.80 C236.51,1020.38 237.55,1011.63 238.80,1003.30 C240.05,994.97 241.09,984.55 242.55,975.80 C244.01,967.05 245.68,958.72 247.55,950.80 C249.43,942.88 251.51,934.34 253.80,928.30 C256.09,922.26 258.80,917.88 261.30,914.55 C263.80,911.22 266.72,908.51 268.80,908.30 C270.88,908.09 272.13,912.26 273.80,913.30 C275.47,914.34 277.13,915.80 278.80,914.55 C280.47,913.30 281.72,910.17 283.80,905.80 C285.88,901.42 288.38,894.13 291.30,888.30 C294.22,882.47 297.55,877.47 301.30,870.80 C305.05,864.13 309.63,856.63 313.80,848.30 C317.97,839.97 322.13,829.97 326.30,820.80 C330.47,811.63 335.05,800.17 338.80,793.30 C342.55,786.42 345.68,782.80 348.80,779.55 C351.93,776.30 354.63,774.22 357.55,773.80 C360.47,773.38 363.18,775.26 366.30,777.05 C369.43,778.84 373.38,781.01 376.30,784.55 C379.22,788.09 381.51,792.26 383.80,798.30 C386.09,804.34 388.18,812.05 390.05,820.80 C391.93,829.55 393.33,837.60 395.05,850.80 C396.77,864.00 399.02,887.05 400.40,900.00 C401.77,912.95 402.35,919.00 403.30,928.50 C404.25,938.00 405.20,947.50 406.10,957.00 C407.00,966.50 407.67,976.00 408.70,985.50 C409.73,995.00 411.07,1006.08 412.30,1014.00 C413.53,1021.92 414.20,1027.55 416.10,1033.00 C418.00,1038.45 421.02,1044.02 423.70,1046.70 C426.38,1049.38 429.20,1048.55 432.20,1049.10 C435.20,1049.65 439.00,1050.00 441.70,1050.00 C444.40,1050.00 446.02,1049.88 448.40,1049.10 C450.78,1048.32 453.47,1046.88 456.00,1045.30 C458.53,1043.72 461.23,1041.67 463.60,1039.60 C465.97,1037.53 467.67,1037.18 470.20,1032.90 C472.73,1028.62 476.18,1020.22 478.80,1013.90 C481.42,1007.58 483.30,1001.32 485.90,995.00 C488.50,988.68 491.72,982.33 494.40,976.00 C497.08,969.67 499.78,963.33 502.00,957.00 C504.22,950.67 505.72,944.33 507.70,938.00 C509.68,931.67 511.92,925.33 513.90,919.00 C515.88,912.67 517.28,906.50 519.60,900.00 C521.92,893.50 525.43,886.00 527.80,880.00 C530.17,874.00 532.00,868.67 533.80,864.00 C535.60,859.33 536.50,856.00 538.60,852.00 C540.70,848.00 542.80,844.00 546.40,840.00 C550.00,836.00 555.20,832.00 560.20,828.00 C565.20,824.00 571.10,819.70 576.40,816.00 C581.70,812.30 587.40,808.05 592.00,805.80 C596.60,803.55 600.00,803.45 604.00,802.50 C608.00,801.55 612.00,800.95 616.00,800.10 C620.00,799.25 624.00,798.53 628.00,797.40 C632.00,796.27 634.87,794.40 640.00,793.30 C645.13,792.20 652.75,791.30 658.80,790.80 C664.85,790.30 670.88,789.67 676.30,790.30 C681.72,790.92 686.30,793.22 691.30,794.55 C696.30,795.88 701.72,796.84 706.30,798.30 C710.88,799.76 715.05,801.01 718.80,803.30 C722.55,805.59 726.09,808.72 728.80,812.05 C731.51,815.38 733.17,818.51 735.05,823.30 C736.92,828.09 738.38,834.55 740.05,840.80 C741.72,847.05 743.38,854.13 745.05,860.80 C746.72,867.47 748.38,875.17 750.05,880.80 C751.72,886.42 753.38,891.63 755.05,894.55 C756.72,897.47 758.17,898.51 760.05,898.30 C761.92,898.09 764.42,897.05 766.30,893.30 C768.17,889.55 769.42,882.05 771.30,875.80 C773.17,869.55 775.26,862.88 777.55,855.80 C779.84,848.72 782.55,839.97 785.05,833.30 C787.55,826.63 790.05,820.80 792.55,815.80 C795.05,810.80 796.92,807.26 800.05,803.30 C803.17,799.34 807.34,795.17 811.30,792.05 C815.26,788.92 819.22,786.84 823.80,784.55 C828.38,782.26 833.38,779.97 838.80,778.30 C844.22,776.63 850.47,775.38 856.30,774.55 C862.13,773.72 866.72,773.38 873.80,773.30 C880.88,773.22 890.47,773.55 898.80,774.05 C907.13,774.55 915.47,775.38 923.80,776.30 C932.13,777.22 940.47,778.59 948.80,779.55 C957.13,780.51 965.47,781.42 973.80,782.05 C982.13,782.67 990.47,783.09 998.80,783.30 C1007.13,783.51 1015.47,783.51 1023.80,783.30 C1032.13,783.09 1040.47,782.55 1048.80,782.05 C1057.13,781.55 1065.47,780.88 1073.80,780.30 C1082.13,779.72 1086.30,779.38 1098.80,778.55 C1111.30,777.72 1132.13,776.09 1148.80,775.30 C1165.47,774.51 1182.13,773.92 1198.80,773.80 C1215.47,773.67 1234.22,774.13 1248.80,774.55 C1263.38,774.97 1274.63,775.26 1286.30,776.30 C1297.97,777.34 1309.22,778.88 1318.80,780.80 C1328.38,782.72 1336.30,785.72 1343.80,787.80 C1351.30,789.88 1357.97,790.92 1363.80,793.30 C1369.63,795.67 1373.80,799.97 1378.80,802.05 C1383.80,804.13 1388.38,803.30 1393.80,805.80 C1399.22,808.30 1405.47,812.47 1411.30,817.05 C1417.13,821.63 1422.55,826.84 1428.80,833.30 C1435.05,839.76 1442.13,847.47 1448.80,855.80 C1455.47,864.13 1462.13,874.13 1468.80,883.30 C1475.47,892.47 1482.13,901.63 1488.80,910.80 C1495.47,919.97 1502.13,929.97 1508.80,938.30 C1515.47,946.63 1522.13,954.55 1528.80,960.80 C1535.47,967.05 1541.30,971.22 1548.80,975.80 C1556.30,980.38 1565.47,983.97 1573.80,988.30 C1582.13,992.63 1591.72,998.38 1598.80,1001.80 C1605.88,1005.22 1610.47,1007.30 1616.30,1008.80 C1622.13,1010.30 1627.55,1010.67 1633.80,1010.80 C1640.05,1010.92 1647.13,1010.38 1653.80,1009.55 C1660.47,1008.72 1667.55,1007.26 1673.80,1005.80 C1680.05,1004.34 1685.88,1002.88 1691.30,1000.80 C1696.72,998.72 1701.30,996.63 1706.30,993.30 C1711.30,989.97 1716.72,985.38 1721.30,980.80 C1725.88,976.22 1730.05,970.80 1733.80,965.80 C1737.55,960.80 1740.47,955.80 1743.80,950.80 C1747.13,945.80 1750.47,939.97 1753.80,935.80 C1757.13,931.63 1759.63,929.13 1763.80,925.80 C1767.97,922.47 1772.97,918.92 1778.80,915.80 C1784.63,912.67 1791.30,909.55 1798.80,907.05 C1806.30,904.55 1815.47,902.47 1823.80,900.80 C1832.13,899.13 1839.63,898.01 1848.80,897.05 C1857.97,896.09 1868.60,895.47 1878.80,895.05 C1889.00,894.63 1904.80,894.63 1910.00,894.55"/>
<path class="crv" stroke="#4a4a4a" stroke-width="5.8" d="M150.00,915.80 C150.63,913.30 152.33,904.55 153.80,900.80 C155.27,897.05 157.13,893.72 158.80,893.30 C160.47,892.88 162.34,894.13 163.80,898.30 C165.26,902.47 166.30,913.30 167.55,918.30 C168.80,923.30 170.26,921.63 171.30,928.30 C172.34,934.97 172.97,949.13 173.80,958.30 C174.63,967.47 175.26,977.88 176.30,983.30 C177.34,988.72 178.80,990.38 180.05,990.80 C181.30,991.22 182.34,990.38 183.80,985.80 C185.26,981.22 187.55,969.97 188.80,963.30 C190.05,956.63 190.26,949.55 191.30,945.80 C192.34,942.05 193.38,940.38 195.05,940.80 C196.72,941.22 199.43,944.13 201.30,948.30 C203.18,952.47 204.63,958.72 206.30,965.80 C207.97,972.88 209.63,982.05 211.30,990.80 C212.97,999.55 214.84,1011.22 216.30,1018.30 C217.76,1025.38 218.80,1029.97 220.05,1033.30 C221.30,1036.63 222.13,1037.88 223.80,1038.30 C225.47,1038.72 228.18,1037.88 230.05,1035.80 C231.93,1033.72 233.59,1031.22 235.05,1025.80 C236.51,1020.38 237.55,1011.63 238.80,1003.30 C240.05,994.97 241.09,984.55 242.55,975.80 C244.01,967.05 245.68,958.72 247.55,950.80 C249.43,942.88 251.51,934.34 253.80,928.30 C256.09,922.26 258.80,917.88 261.30,914.55 C263.80,911.22 266.72,908.51 268.80,908.30 C270.88,908.09 272.13,912.26 273.80,913.30 C275.47,914.34 277.13,915.80 278.80,914.55 C280.47,913.30 281.72,910.17 283.80,905.80 C285.88,901.42 288.38,894.13 291.30,888.30 C294.22,882.47 297.55,877.47 301.30,870.80 C305.05,864.13 309.63,856.63 313.80,848.30 C317.97,839.97 322.13,829.97 326.30,820.80 C330.47,811.63 335.05,800.17 338.80,793.30 C342.55,786.42 345.68,782.80 348.80,779.55 C351.93,776.30 354.63,774.22 357.55,773.80 C360.47,773.38 363.18,775.26 366.30,777.05 C369.43,778.84 373.38,781.01 376.30,784.55 C379.22,788.09 381.51,792.26 383.80,798.30 C386.09,804.34 388.18,812.05 390.05,820.80 C391.93,829.55 393.33,837.60 395.05,850.80 C396.77,864.00 399.02,887.05 400.40,900.00 C401.77,912.95 402.35,919.00 403.30,928.50 C404.25,938.00 405.20,947.50 406.10,957.00 C407.00,966.50 407.67,976.00 408.70,985.50 C409.73,995.00 411.07,1006.08 412.30,1014.00 C413.53,1021.92 414.20,1027.55 416.10,1033.00 C418.00,1038.45 421.02,1044.02 423.70,1046.70 C426.38,1049.38 429.20,1048.55 432.20,1049.10 C435.20,1049.65 439.00,1050.00 441.70,1050.00 C444.40,1050.00 446.02,1049.88 448.40,1049.10 C450.78,1048.32 453.47,1046.88 456.00,1045.30 C458.53,1043.72 461.23,1041.67 463.60,1039.60 C465.97,1037.53 467.67,1037.18 470.20,1032.90 C472.73,1028.62 476.18,1020.22 478.80,1013.90 C481.42,1007.58 483.30,1001.32 485.90,995.00 C488.50,988.68 491.72,982.33 494.40,976.00 C497.08,969.67 499.78,963.33 502.00,957.00 C504.22,950.67 505.72,944.33 507.70,938.00 C509.68,931.67 511.92,925.33 513.90,919.00 C515.88,912.67 517.28,906.50 519.60,900.00 C521.92,893.50 525.43,886.00 527.80,880.00 C530.17,874.00 532.00,868.67 533.80,864.00 C535.60,859.33 536.50,856.00 538.60,852.00 C540.70,848.00 542.80,844.00 546.40,840.00 C550.00,836.00 555.20,832.00 560.20,828.00 C565.20,824.00 571.10,819.70 576.40,816.00 C581.70,812.30 587.40,808.05 592.00,805.80 C596.60,803.55 600.00,803.45 604.00,802.50 C608.00,801.55 612.00,800.95 616.00,800.10 C620.00,799.25 624.00,798.53 628.00,797.40 C632.00,796.27 634.87,794.40 640.00,793.30 C645.13,792.20 652.75,791.30 658.80,790.80 C664.85,790.30 670.88,789.67 676.30,790.30 C681.72,790.92 686.30,793.22 691.30,794.55 C696.30,795.88 701.72,796.84 706.30,798.30 C710.88,799.76 715.05,801.01 718.80,803.30 C722.55,805.59 726.09,808.72 728.80,812.05 C731.51,815.38 733.17,818.51 735.05,823.30 C736.92,828.09 738.38,834.55 740.05,840.80 C741.72,847.05 743.38,854.13 745.05,860.80 C746.72,867.47 748.38,875.17 750.05,880.80 C751.72,886.42 753.38,891.63 755.05,894.55 C756.72,897.47 758.17,898.51 760.05,898.30 C761.92,898.09 764.42,897.05 766.30,893.30 C768.17,889.55 769.42,882.05 771.30,875.80 C773.17,869.55 775.26,862.88 777.55,855.80 C779.84,848.72 782.55,839.97 785.05,833.30 C787.55,826.63 790.05,820.80 792.55,815.80 C795.05,810.80 796.92,807.26 800.05,803.30 C803.17,799.34 807.34,795.17 811.30,792.05 C815.26,788.92 819.22,786.84 823.80,784.55 C828.38,782.26 833.38,779.97 838.80,778.30 C844.22,776.63 850.47,775.38 856.30,774.55 C862.13,773.72 866.72,773.38 873.80,773.30 C880.88,773.22 890.47,773.55 898.80,774.05 C907.13,774.55 915.47,775.38 923.80,776.30 C932.13,777.22 940.47,778.59 948.80,779.55 C957.13,780.51 965.47,781.42 973.80,782.05 C982.13,782.67 990.47,783.09 998.80,783.30 C1007.13,783.51 1015.47,783.51 1023.80,783.30 C1032.13,783.09 1040.47,782.55 1048.80,782.05 C1057.13,781.55 1065.47,780.88 1073.80,780.30 C1082.13,779.72 1086.30,779.38 1098.80,778.55 C1111.30,777.72 1132.13,776.09 1148.80,775.30 C1165.47,774.51 1182.13,773.92 1198.80,773.80 C1215.47,773.67 1234.22,774.13 1248.80,774.55 C1263.38,774.97 1274.63,775.26 1286.30,776.30 C1297.97,777.34 1309.22,778.88 1318.80,780.80 C1328.38,782.72 1336.30,785.72 1343.80,787.80 C1351.30,789.88 1357.97,790.92 1363.80,793.30 C1369.63,795.67 1373.80,799.97 1378.80,802.05 C1383.80,804.13 1388.38,803.30 1393.80,805.80 C1399.22,808.30 1405.47,812.47 1411.30,817.05 C1417.13,821.63 1422.55,826.84 1428.80,833.30 C1435.05,839.76 1442.13,847.47 1448.80,855.80 C1455.47,864.13 1462.13,874.13 1468.80,883.30 C1475.47,892.47 1482.13,901.63 1488.80,910.80 C1495.47,919.97 1502.13,929.97 1508.80,938.30 C1515.47,946.63 1522.13,954.55 1528.80,960.80 C1535.47,967.05 1541.30,971.22 1548.80,975.80 C1556.30,980.38 1565.47,983.97 1573.80,988.30 C1582.13,992.63 1591.72,998.38 1598.80,1001.80 C1605.88,1005.22 1610.47,1007.30 1616.30,1008.80 C1622.13,1010.30 1627.55,1010.67 1633.80,1010.80 C1640.05,1010.92 1647.13,1010.38 1653.80,1009.55 C1660.47,1008.72 1667.55,1007.26 1673.80,1005.80 C1680.05,1004.34 1685.88,1002.88 1691.30,1000.80 C1696.72,998.72 1701.30,996.63 1706.30,993.30 C1711.30,989.97 1716.72,985.38 1721.30,980.80 C1725.88,976.22 1730.05,970.80 1733.80,965.80 C1737.55,960.80 1740.47,955.80 1743.80,950.80 C1747.13,945.80 1750.47,939.97 1753.80,935.80 C1757.13,931.63 1759.63,929.13 1763.80,925.80 C1767.97,922.47 1772.97,918.92 1778.80,915.80 C1784.63,912.67 1791.30,909.55 1798.80,907.05 C1806.30,904.55 1815.47,902.47 1823.80,900.80 C1832.13,899.13 1839.63,898.01 1848.80,897.05 C1857.97,896.09 1868.60,895.47 1878.80,895.05 C1889.00,894.63 1904.80,894.63 1910.00,894.55"/>
<rect x="149.2" y="1247.5" width="4.3" height="151.0" fill="#ff3838"/>
<path class="crv" stroke="#ff3838" stroke-opacity="0.3" stroke-width="9.0" d="M150.00,1263.30 C150.43,1261.22 151.29,1253.92 152.55,1250.80 C153.81,1247.67 155.68,1244.55 157.55,1244.55 C159.43,1244.55 161.72,1246.42 163.80,1250.80 C165.88,1255.17 168.18,1262.47 170.05,1270.80 C171.93,1279.13 173.59,1291.63 175.05,1300.80 C176.51,1309.97 177.76,1321.01 178.80,1325.80 C179.84,1330.59 180.47,1329.55 181.30,1329.55 C182.13,1329.55 182.76,1330.17 183.80,1325.80 C184.84,1321.42 186.30,1309.97 187.55,1303.30 C188.80,1296.63 189.84,1289.88 191.30,1285.80 C192.76,1281.72 194.43,1278.80 196.30,1278.80 C198.18,1278.80 200.47,1280.88 202.55,1285.80 C204.63,1290.72 206.93,1300.38 208.80,1308.30 C210.68,1316.22 212.13,1324.55 213.80,1333.30 C215.47,1342.05 217.34,1354.13 218.80,1360.80 C220.26,1367.47 221.30,1370.59 222.55,1373.30 C223.80,1376.01 224.63,1377.05 226.30,1377.05 C227.97,1377.05 230.88,1375.59 232.55,1373.30 C234.22,1371.01 235.05,1368.72 236.30,1363.30 C237.55,1357.88 238.80,1349.13 240.05,1340.80 C241.30,1332.47 242.34,1321.63 243.80,1313.30 C245.26,1304.97 246.93,1297.47 248.80,1290.80 C250.68,1284.13 252.97,1277.88 255.05,1273.30 C257.13,1268.72 259.22,1265.59 261.30,1263.30 C263.38,1261.01 265.68,1258.72 267.55,1259.55 C269.43,1260.38 270.88,1265.59 272.55,1268.30 C274.22,1271.01 275.88,1275.38 277.55,1275.80 C279.22,1276.22 280.68,1273.72 282.55,1270.80 C284.43,1267.88 286.09,1262.47 288.80,1258.30 C291.51,1254.13 295.05,1250.80 298.80,1245.80 C302.55,1240.80 307.55,1234.55 311.30,1228.30 C315.05,1222.05 317.97,1215.80 321.30,1208.30 C324.63,1200.80 328.38,1189.55 331.30,1183.30 C334.22,1177.05 336.09,1174.34 338.80,1170.80 C341.51,1167.26 344.84,1163.92 347.55,1162.05 C350.26,1160.17 352.34,1159.34 355.05,1159.55 C357.76,1159.76 360.68,1161.92 363.80,1163.30 C366.93,1164.67 371.30,1166.55 373.80,1167.80 C376.30,1169.05 377.55,1166.13 378.80,1170.80 C380.05,1175.47 380.38,1191.42 381.30,1195.80 C382.22,1200.17 383.47,1200.38 384.30,1197.05 C385.13,1193.72 385.34,1179.76 386.30,1175.80 C387.26,1171.84 388.59,1172.05 390.05,1173.30 C391.51,1174.55 393.38,1177.88 395.05,1183.30 C396.72,1188.72 398.59,1197.05 400.05,1205.80 C401.51,1214.55 402.55,1224.97 403.80,1235.80 C405.05,1246.63 406.30,1259.13 407.55,1270.80 C408.80,1282.47 410.05,1294.55 411.30,1305.80 C412.55,1317.05 413.59,1327.47 415.05,1338.30 C416.51,1349.13 418.38,1362.88 420.05,1370.80 C421.72,1378.72 422.97,1382.05 425.05,1385.80 C427.13,1389.55 429.43,1391.72 432.55,1393.30 C435.68,1394.88 439.84,1395.22 443.80,1395.30 C447.76,1395.38 452.55,1394.97 456.30,1393.80 C460.05,1392.63 463.59,1390.67 466.30,1388.30 C469.01,1385.92 470.47,1384.13 472.55,1379.55 C474.63,1374.97 476.72,1366.42 478.80,1360.80 C480.88,1355.17 482.97,1350.17 485.05,1345.80 C487.13,1341.42 489.43,1338.72 491.30,1334.55 C493.18,1330.38 494.63,1326.84 496.30,1320.80 C497.97,1314.76 499.63,1307.05 501.30,1298.30 C502.97,1289.55 504.63,1277.88 506.30,1268.30 C507.97,1258.72 510.05,1247.47 511.30,1240.80 C512.55,1234.13 511.72,1232.05 513.80,1228.30 C515.88,1224.55 520.05,1222.47 523.80,1218.30 C527.55,1214.13 532.13,1207.88 536.30,1203.30 C540.47,1198.72 544.22,1194.55 548.80,1190.80 C553.38,1187.05 557.97,1183.84 563.80,1180.80 C569.63,1177.76 577.13,1174.59 583.80,1172.55 C590.47,1170.51 596.72,1169.17 603.80,1168.55 C610.88,1167.92 619.63,1169.47 626.30,1168.80 C632.97,1168.13 637.55,1165.88 643.80,1164.55 C650.05,1163.22 657.13,1161.72 663.80,1160.80 C670.47,1159.88 677.13,1159.13 683.80,1159.05 C690.47,1158.97 698.59,1160.34 703.80,1160.30 C709.01,1160.26 711.30,1158.72 715.05,1158.80 C718.80,1158.88 722.97,1159.42 726.30,1160.80 C729.63,1162.17 732.34,1163.92 735.05,1167.05 C737.76,1170.17 740.05,1175.38 742.55,1179.55 C745.05,1183.72 747.55,1189.34 750.05,1192.05 C752.55,1194.76 754.84,1195.59 757.55,1195.80 C760.26,1196.01 763.17,1195.38 766.30,1193.30 C769.42,1191.22 772.97,1186.63 776.30,1183.30 C779.63,1179.97 783.59,1177.88 786.30,1173.30 C789.01,1168.72 790.26,1161.01 792.55,1155.80 C794.84,1150.59 797.34,1145.80 800.05,1142.05 C802.76,1138.30 805.67,1135.38 808.80,1133.30 C811.92,1131.22 815.47,1131.22 818.80,1129.55 C822.13,1127.88 825.05,1124.97 828.80,1123.30 C832.55,1121.63 836.30,1120.47 841.30,1119.55 C846.30,1118.63 852.55,1118.09 858.80,1117.80 C865.05,1117.51 872.13,1117.59 878.80,1117.80 C885.47,1118.01 891.30,1118.34 898.80,1119.05 C906.30,1119.76 915.47,1120.92 923.80,1122.05 C932.13,1123.17 940.47,1124.76 948.80,1125.80 C957.13,1126.84 965.47,1127.80 973.80,1128.30 C982.13,1128.80 990.47,1128.88 998.80,1128.80 C1007.13,1128.72 1015.47,1128.30 1023.80,1127.80 C1032.13,1127.30 1040.47,1126.55 1048.80,1125.80 C1057.13,1125.05 1065.47,1124.05 1073.80,1123.30 C1082.13,1122.55 1089.63,1122.05 1098.80,1121.30 C1107.97,1120.55 1118.38,1119.30 1128.80,1118.80 C1139.22,1118.30 1154.22,1117.97 1161.30,1118.30 C1168.38,1118.63 1165.88,1120.80 1171.30,1120.80 C1176.72,1120.80 1185.05,1118.51 1193.80,1118.30 C1202.55,1118.09 1212.55,1118.51 1223.80,1119.55 C1235.05,1120.59 1248.80,1122.59 1261.30,1124.55 C1273.80,1126.51 1288.38,1129.09 1298.80,1131.30 C1309.22,1133.51 1317.13,1135.80 1323.80,1137.80 C1330.47,1139.80 1335.05,1141.34 1338.80,1143.30 C1342.55,1145.26 1342.97,1148.30 1346.30,1149.55 C1349.63,1150.80 1354.63,1149.34 1358.80,1150.80 C1362.97,1152.26 1367.55,1155.38 1371.30,1158.30 C1375.05,1161.22 1377.55,1166.22 1381.30,1168.30 C1385.05,1170.38 1388.80,1168.72 1393.80,1170.80 C1398.80,1172.88 1405.05,1176.22 1411.30,1180.80 C1417.55,1185.38 1424.22,1191.22 1431.30,1198.30 C1438.38,1205.38 1446.72,1214.97 1453.80,1223.30 C1460.88,1231.63 1467.13,1239.97 1473.80,1248.30 C1480.47,1256.63 1487.55,1265.80 1493.80,1273.30 C1500.05,1280.80 1505.47,1287.26 1511.30,1293.30 C1517.13,1299.34 1522.55,1304.76 1528.80,1309.55 C1535.05,1314.34 1541.30,1318.01 1548.80,1322.05 C1556.30,1326.09 1566.30,1330.17 1573.80,1333.80 C1581.30,1337.42 1587.97,1341.47 1593.80,1343.80 C1599.63,1346.13 1603.80,1347.05 1608.80,1347.80 C1613.80,1348.55 1618.80,1348.55 1623.80,1348.30 C1628.80,1348.05 1633.38,1347.55 1638.80,1346.30 C1644.22,1345.05 1650.47,1343.17 1656.30,1340.80 C1662.13,1338.42 1668.38,1335.38 1673.80,1332.05 C1679.22,1328.72 1684.22,1325.17 1688.80,1320.80 C1693.38,1316.42 1697.55,1311.22 1701.30,1305.80 C1705.05,1300.38 1708.38,1294.13 1711.30,1288.30 C1714.22,1282.47 1716.30,1277.88 1718.80,1270.80 C1721.30,1263.72 1723.80,1254.97 1726.30,1245.80 C1728.80,1236.63 1731.30,1224.97 1733.80,1215.80 C1736.30,1206.63 1738.80,1198.30 1741.30,1190.80 C1743.80,1183.30 1746.30,1176.63 1748.80,1170.80 C1751.30,1164.97 1753.38,1159.97 1756.30,1155.80 C1759.22,1151.63 1762.13,1148.92 1766.30,1145.80 C1770.47,1142.67 1775.05,1139.76 1781.30,1137.05 C1787.55,1134.34 1795.88,1131.63 1803.80,1129.55 C1811.72,1127.47 1819.22,1125.92 1828.80,1124.55 C1838.38,1123.17 1851.72,1122.13 1861.30,1121.30 C1870.88,1120.47 1878.18,1120.13 1886.30,1119.55 C1894.42,1118.97 1906.05,1118.09 1910.00,1117.80"/>
<path class="crv" stroke="#ff3838" stroke-width="6.0" d="M150.00,1263.30 C150.43,1261.22 151.29,1253.92 152.55,1250.80 C153.81,1247.67 155.68,1244.55 157.55,1244.55 C159.43,1244.55 161.72,1246.42 163.80,1250.80 C165.88,1255.17 168.18,1262.47 170.05,1270.80 C171.93,1279.13 173.59,1291.63 175.05,1300.80 C176.51,1309.97 177.76,1321.01 178.80,1325.80 C179.84,1330.59 180.47,1329.55 181.30,1329.55 C182.13,1329.55 182.76,1330.17 183.80,1325.80 C184.84,1321.42 186.30,1309.97 187.55,1303.30 C188.80,1296.63 189.84,1289.88 191.30,1285.80 C192.76,1281.72 194.43,1278.80 196.30,1278.80 C198.18,1278.80 200.47,1280.88 202.55,1285.80 C204.63,1290.72 206.93,1300.38 208.80,1308.30 C210.68,1316.22 212.13,1324.55 213.80,1333.30 C215.47,1342.05 217.34,1354.13 218.80,1360.80 C220.26,1367.47 221.30,1370.59 222.55,1373.30 C223.80,1376.01 224.63,1377.05 226.30,1377.05 C227.97,1377.05 230.88,1375.59 232.55,1373.30 C234.22,1371.01 235.05,1368.72 236.30,1363.30 C237.55,1357.88 238.80,1349.13 240.05,1340.80 C241.30,1332.47 242.34,1321.63 243.80,1313.30 C245.26,1304.97 246.93,1297.47 248.80,1290.80 C250.68,1284.13 252.97,1277.88 255.05,1273.30 C257.13,1268.72 259.22,1265.59 261.30,1263.30 C263.38,1261.01 265.68,1258.72 267.55,1259.55 C269.43,1260.38 270.88,1265.59 272.55,1268.30 C274.22,1271.01 275.88,1275.38 277.55,1275.80 C279.22,1276.22 280.68,1273.72 282.55,1270.80 C284.43,1267.88 286.09,1262.47 288.80,1258.30 C291.51,1254.13 295.05,1250.80 298.80,1245.80 C302.55,1240.80 307.55,1234.55 311.30,1228.30 C315.05,1222.05 317.97,1215.80 321.30,1208.30 C324.63,1200.80 328.38,1189.55 331.30,1183.30 C334.22,1177.05 336.09,1174.34 338.80,1170.80 C341.51,1167.26 344.84,1163.92 347.55,1162.05 C350.26,1160.17 352.34,1159.34 355.05,1159.55 C357.76,1159.76 360.68,1161.92 363.80,1163.30 C366.93,1164.67 371.30,1166.55 373.80,1167.80 C376.30,1169.05 377.55,1166.13 378.80,1170.80 C380.05,1175.47 380.38,1191.42 381.30,1195.80 C382.22,1200.17 383.47,1200.38 384.30,1197.05 C385.13,1193.72 385.34,1179.76 386.30,1175.80 C387.26,1171.84 388.59,1172.05 390.05,1173.30 C391.51,1174.55 393.38,1177.88 395.05,1183.30 C396.72,1188.72 398.59,1197.05 400.05,1205.80 C401.51,1214.55 402.55,1224.97 403.80,1235.80 C405.05,1246.63 406.30,1259.13 407.55,1270.80 C408.80,1282.47 410.05,1294.55 411.30,1305.80 C412.55,1317.05 413.59,1327.47 415.05,1338.30 C416.51,1349.13 418.38,1362.88 420.05,1370.80 C421.72,1378.72 422.97,1382.05 425.05,1385.80 C427.13,1389.55 429.43,1391.72 432.55,1393.30 C435.68,1394.88 439.84,1395.22 443.80,1395.30 C447.76,1395.38 452.55,1394.97 456.30,1393.80 C460.05,1392.63 463.59,1390.67 466.30,1388.30 C469.01,1385.92 470.47,1384.13 472.55,1379.55 C474.63,1374.97 476.72,1366.42 478.80,1360.80 C480.88,1355.17 482.97,1350.17 485.05,1345.80 C487.13,1341.42 489.43,1338.72 491.30,1334.55 C493.18,1330.38 494.63,1326.84 496.30,1320.80 C497.97,1314.76 499.63,1307.05 501.30,1298.30 C502.97,1289.55 504.63,1277.88 506.30,1268.30 C507.97,1258.72 510.05,1247.47 511.30,1240.80 C512.55,1234.13 511.72,1232.05 513.80,1228.30 C515.88,1224.55 520.05,1222.47 523.80,1218.30 C527.55,1214.13 532.13,1207.88 536.30,1203.30 C540.47,1198.72 544.22,1194.55 548.80,1190.80 C553.38,1187.05 557.97,1183.84 563.80,1180.80 C569.63,1177.76 577.13,1174.59 583.80,1172.55 C590.47,1170.51 596.72,1169.17 603.80,1168.55 C610.88,1167.92 619.63,1169.47 626.30,1168.80 C632.97,1168.13 637.55,1165.88 643.80,1164.55 C650.05,1163.22 657.13,1161.72 663.80,1160.80 C670.47,1159.88 677.13,1159.13 683.80,1159.05 C690.47,1158.97 698.59,1160.34 703.80,1160.30 C709.01,1160.26 711.30,1158.72 715.05,1158.80 C718.80,1158.88 722.97,1159.42 726.30,1160.80 C729.63,1162.17 732.34,1163.92 735.05,1167.05 C737.76,1170.17 740.05,1175.38 742.55,1179.55 C745.05,1183.72 747.55,1189.34 750.05,1192.05 C752.55,1194.76 754.84,1195.59 757.55,1195.80 C760.26,1196.01 763.17,1195.38 766.30,1193.30 C769.42,1191.22 772.97,1186.63 776.30,1183.30 C779.63,1179.97 783.59,1177.88 786.30,1173.30 C789.01,1168.72 790.26,1161.01 792.55,1155.80 C794.84,1150.59 797.34,1145.80 800.05,1142.05 C802.76,1138.30 805.67,1135.38 808.80,1133.30 C811.92,1131.22 815.47,1131.22 818.80,1129.55 C822.13,1127.88 825.05,1124.97 828.80,1123.30 C832.55,1121.63 836.30,1120.47 841.30,1119.55 C846.30,1118.63 852.55,1118.09 858.80,1117.80 C865.05,1117.51 872.13,1117.59 878.80,1117.80 C885.47,1118.01 891.30,1118.34 898.80,1119.05 C906.30,1119.76 915.47,1120.92 923.80,1122.05 C932.13,1123.17 940.47,1124.76 948.80,1125.80 C957.13,1126.84 965.47,1127.80 973.80,1128.30 C982.13,1128.80 990.47,1128.88 998.80,1128.80 C1007.13,1128.72 1015.47,1128.30 1023.80,1127.80 C1032.13,1127.30 1040.47,1126.55 1048.80,1125.80 C1057.13,1125.05 1065.47,1124.05 1073.80,1123.30 C1082.13,1122.55 1089.63,1122.05 1098.80,1121.30 C1107.97,1120.55 1118.38,1119.30 1128.80,1118.80 C1139.22,1118.30 1154.22,1117.97 1161.30,1118.30 C1168.38,1118.63 1165.88,1120.80 1171.30,1120.80 C1176.72,1120.80 1185.05,1118.51 1193.80,1118.30 C1202.55,1118.09 1212.55,1118.51 1223.80,1119.55 C1235.05,1120.59 1248.80,1122.59 1261.30,1124.55 C1273.80,1126.51 1288.38,1129.09 1298.80,1131.30 C1309.22,1133.51 1317.13,1135.80 1323.80,1137.80 C1330.47,1139.80 1335.05,1141.34 1338.80,1143.30 C1342.55,1145.26 1342.97,1148.30 1346.30,1149.55 C1349.63,1150.80 1354.63,1149.34 1358.80,1150.80 C1362.97,1152.26 1367.55,1155.38 1371.30,1158.30 C1375.05,1161.22 1377.55,1166.22 1381.30,1168.30 C1385.05,1170.38 1388.80,1168.72 1393.80,1170.80 C1398.80,1172.88 1405.05,1176.22 1411.30,1180.80 C1417.55,1185.38 1424.22,1191.22 1431.30,1198.30 C1438.38,1205.38 1446.72,1214.97 1453.80,1223.30 C1460.88,1231.63 1467.13,1239.97 1473.80,1248.30 C1480.47,1256.63 1487.55,1265.80 1493.80,1273.30 C1500.05,1280.80 1505.47,1287.26 1511.30,1293.30 C1517.13,1299.34 1522.55,1304.76 1528.80,1309.55 C1535.05,1314.34 1541.30,1318.01 1548.80,1322.05 C1556.30,1326.09 1566.30,1330.17 1573.80,1333.80 C1581.30,1337.42 1587.97,1341.47 1593.80,1343.80 C1599.63,1346.13 1603.80,1347.05 1608.80,1347.80 C1613.80,1348.55 1618.80,1348.55 1623.80,1348.30 C1628.80,1348.05 1633.38,1347.55 1638.80,1346.30 C1644.22,1345.05 1650.47,1343.17 1656.30,1340.80 C1662.13,1338.42 1668.38,1335.38 1673.80,1332.05 C1679.22,1328.72 1684.22,1325.17 1688.80,1320.80 C1693.38,1316.42 1697.55,1311.22 1701.30,1305.80 C1705.05,1300.38 1708.38,1294.13 1711.30,1288.30 C1714.22,1282.47 1716.30,1277.88 1718.80,1270.80 C1721.30,1263.72 1723.80,1254.97 1726.30,1245.80 C1728.80,1236.63 1731.30,1224.97 1733.80,1215.80 C1736.30,1206.63 1738.80,1198.30 1741.30,1190.80 C1743.80,1183.30 1746.30,1176.63 1748.80,1170.80 C1751.30,1164.97 1753.38,1159.97 1756.30,1155.80 C1759.22,1151.63 1762.13,1148.92 1766.30,1145.80 C1770.47,1142.67 1775.05,1139.76 1781.30,1137.05 C1787.55,1134.34 1795.88,1131.63 1803.80,1129.55 C1811.72,1127.47 1819.22,1125.92 1828.80,1124.55 C1838.38,1123.17 1851.72,1122.13 1861.30,1121.30 C1870.88,1120.47 1878.18,1120.13 1886.30,1119.55 C1894.42,1118.97 1906.05,1118.09 1910.00,1117.80"/>
</g>
<g id="labels">
<text class="t74" x="1050.9" y="148.1" text-anchor="middle">(a)</text>
<text class="t74" x="1052.2" y="490.3" text-anchor="middle">(b)</text>
<text class="t74" x="1053.5" y="751.2" text-anchor="middle">(c)</text>
<text class="t74" x="1052.2" y="1093.2" text-anchor="middle">(d)</text>
<text x="1440" y="155.3" style="font-size:74.3px">Fe<tspan dy="21.2">3</tspan><tspan dy="-21.2">O</tspan><tspan dy="21.2">4</tspan><tspan dy="-21.2"> MNP</tspan></text>
<text x="1362.5" y="486" style="font-size:73.6px">Fe<tspan dy="20.5">3</tspan><tspan dy="-20.5">O</tspan><tspan dy="20.5">4</tspan><tspan dy="-20.5"> @ SiO</tspan><tspan dy="16.5">2</tspan></text>
<text x="1422.3" y="816" style="font-size:73.4px">Fe<tspan dy="20.5">3</tspan><tspan dy="-20.5">O</tspan><tspan dy="20.5">4</tspan><tspan dy="-20.5">@zeolite</tspan></text>
<text class="t74" x="1668.5" y="931.4" text-anchor="middle">NaA</text>
<text class="t74" x="1564.5" y="1068" text-anchor="middle">Magnetic</text>
<text class="t74" x="1572.5" y="1160" text-anchor="middle">zeolite NaA</text>
</g>
<g id="ticklabels">
<text class="t75" x="198.50" y="1531" text-anchor="middle">500</text>
<text class="t75" x="443.00" y="1531" text-anchor="middle">1000</text>
<text class="t75" x="687.50" y="1531" text-anchor="middle">1500</text>
<text class="t75" x="932.00" y="1531" text-anchor="middle">2000</text>
<text class="t75" x="1176.50" y="1531" text-anchor="middle">2500</text>
<text class="t75" x="1421.00" y="1531" text-anchor="middle">3000</text>
<text class="t75" x="1665.50" y="1531" text-anchor="middle">3500</text>
<text class="t75" x="1910.00" y="1531" text-anchor="middle">4000</text>
</g>
<g id="titles">
<text class="t80" x="705.6" y="1655">Wavenumber<tspan class="par">(</tspan>cm<tspan dy="-29.5">-1</tspan><tspan class="par" dy="29.5">)</tspan></text>
<text class="ty" transform="translate(77,719.4) rotate(-90)" text-anchor="middle">Transnittance(%)</text>
</g>
</svg>
</body></html>
